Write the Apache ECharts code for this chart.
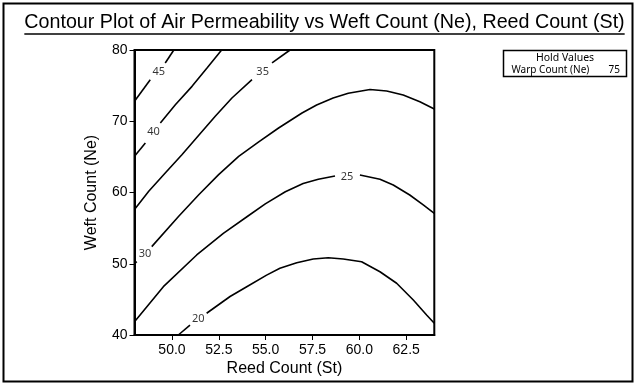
<!DOCTYPE html>
<html>
<head>
<meta charset="utf-8">
<script src="https://cdn.jsdelivr.net/npm/echarts@6/dist/echarts.min.js"></script>
<style>
html,body{margin:0;padding:0;background:#fff;}
#chart{width:636px;height:384px;}
</style>
</head>
<body>
<div id="chart"></div>
<script>
// ---- data (Reed Count (St), Weft Count (Ne)) ----
const titleText = 'Contour Plot of Air Permeability vs Weft Count (Ne), Reed Count (St)';
const xName = 'Reed Count (St)';
const yName = 'Weft Count (Ne)';
const xTickValues = [50, 52.5, 55, 57.5, 60, 62.5];
const yTickValues = [40, 50, 60, 70, 80];
const holdTitle = 'Hold Values';
const holdName = 'Warp Count (Ne)';
const holdValue = '75';

// contour segments (gaps where labels sit)
const contour45 = [
  [[48, 72.8], [48.84, 75.83]],
  [[49.64, 78.18], [50.1, 80]]
];
const contour40 = [
  [[48, 65.1], [48.58, 66.95]],
  [[49.38, 69.75], [50.18, 72.32], [51.07, 74.9], [51.87, 77.47], [52.65, 80]]
];
const contour35 = [
  [[48, 57.6], [48.76, 60.17], [49.64, 62.74], [50.53, 65.31], [51.43, 68.03], [52.31, 70.69],
   [53.2, 73.26], [54.27, 75.83]],
  [[55.34, 78.18], [56.3, 80]]
];
const contour30 = [
  [[48, 50.0], [48.12, 50.3]],
  [[48.92, 52.4], [50.36, 56.66], [51.43, 59.69], [52.49, 62.5], [53.56, 65.08], [54.63, 67.1],
   [55.69, 69.05], [56.94, 71.16], [57.72, 72.28], [58.6, 73.25], [59.41, 73.92], [60.57, 74.46],
   [61.46, 74.25], [62.34, 73.68], [63.23, 72.74], [64, 71.72]]
];
const contour25 = [
  [[48, 41.87], [49.54, 46.78], [51.32, 51.23], [52.74, 54.27], [54.0, 56.6], [54.98, 58.4],
   [56.05, 60.1], [57.0, 61.25], [57.81, 61.85], [58.7, 62.32]],
  [[60.03, 62.46], [61.1, 61.85], [61.81, 61.05], [62.69, 59.65], [63.41, 58.25], [64, 57.08]]
];
const contour20 = [
  [[50.34, 40], [50.96, 41.4]],
  [[51.85, 43.05], [53.1, 45.4], [53.99, 46.78], [55.05, 48.4], [55.76, 49.36], [56.66, 50.15],
   [57.54, 50.67], [58.34, 50.85], [59.14, 50.67], [60.12, 50.29], [61.1, 48.88], [61.99, 47.26],
   [62.88, 44.91], [63.59, 42.81], [64, 41.64]]
];
const contourLevels = ['45', '40', '35', '30', '25', '20'];
const contourLabelPos = [[49.29, 77.0], [49.02, 68.5], [54.84, 77.0], [48.56, 51.37], [59.34, 62.25], [51.4, 42.2]];

// ---- build ----
const contours = [contour45, contour40, contour35, contour30, contour25, contour20];
const series = [];
contours.forEach(function (segs) {
  segs.forEach(function (seg) {
    series.push({
      type: 'line', data: seg, showSymbol: false, symbol: 'none', silent: true,
      smooth: false, lineStyle: { color: '#000', width: 1.6 }, animation: false, clip: true
    });
  });
});
series.push({
  type: 'scatter', symbolSize: 1, itemStyle: { color: 'rgba(0,0,0,0)' }, silent: true, animation: false,
  data: contourLabelPos.map(function (p, i) { return { value: p, name: contourLevels[i] }; }),
  label: { show: true, position: 'inside', formatter: '{b}', color: '#000', fontSize: 11, fontFamily: 'Noto Sans' }
});

const gridLeft = 134.5, gridTop = 50, gridRight = 636 - 434.3, gridBottom = 384 - 335;

// measure title width for underline
const titleFont = '19.7px "Liberation Sans"';
const cv = document.createElement('canvas').getContext('2d');
cv.font = titleFont;
const tw = cv.measureText(titleText).width;
const tcx = 324.5;

const chart = echarts.init(document.getElementById('chart'), null, { renderer: 'canvas' });
chart.setOption({
  animation: false,
  backgroundColor: '#fff',
  grid: { left: gridLeft, right: gridRight, top: gridTop, bottom: gridBottom, show: true, borderColor: '#000', borderWidth: 2, backgroundColor: 'transparent' },
  xAxis: {
    type: 'value', min: 48, max: 64,
    axisLine: { show: true, onZero: false, lineStyle: { color: '#000', width: 2 } },
    axisTick: { show: true, inside: false, length: 5, lineStyle: { color: '#000', width: 1 }, customValues: xTickValues },
    axisLabel: { show: true, customValues: xTickValues, margin: 8, color: '#000', fontSize: 14, fontFamily: 'Liberation Sans',
      formatter: function (v) { return v.toFixed(1); } },
    splitLine: { show: false }
  },
  yAxis: {
    type: 'value', min: 40, max: 80, interval: 10,
    axisLine: { show: true, onZero: false, lineStyle: { color: '#000', width: 2 } },
    axisTick: { show: true, inside: false, length: 5, lineStyle: { color: '#000', width: 1 } },
    axisLabel: { show: true, margin: 7, color: '#000', fontSize: 14, fontFamily: 'Liberation Sans' },
    splitLine: { show: false }
  },
  series: series,
  graphic: [
    { type: 'rect', shape: { x: 3.5, y: 3.5, width: 629, height: 378 }, style: { fill: 'none', stroke: '#000', lineWidth: 2 }, silent: true },
    { type: 'text', x: tcx, y: 23, style: { text: titleText, font: titleFont, fill: '#000', align: 'center', verticalAlign: 'middle' }, silent: true },
    { type: 'line', shape: { x1: tcx - tw / 2, y1: 34, x2: tcx + tw / 2, y2: 34 }, style: { stroke: '#000', lineWidth: 1.5 }, silent: true },
    { type: 'text', x: 284.4, y: 369, style: { text: xName, font: '16px "Liberation Sans"', fill: '#000', align: 'center', verticalAlign: 'middle' }, silent: true },
    { type: 'text', x: 92, y: 192.5, rotation: Math.PI / 2, style: { text: yName, font: '16px "Liberation Sans"', fill: '#000', align: 'center', verticalAlign: 'middle' }, silent: true },
    { type: 'rect', shape: { x: 503.5, y: 50.5, width: 123, height: 26 }, style: { fill: '#fff', stroke: '#000', lineWidth: 1.5 }, silent: true },
    { type: 'text', x: 565, y: 58.5, style: { text: holdTitle, font: '10.5px "Noto Sans"', fill: '#000', align: 'center', verticalAlign: 'middle' }, silent: true },
    { type: 'text', x: 511.5, y: 70, style: { text: holdName, font: '10px "Noto Sans"', fill: '#000', align: 'left', verticalAlign: 'middle' }, silent: true },
    { type: 'text', x: 620, y: 70, style: { text: holdValue, font: '10px "Noto Sans"', fill: '#000', align: 'right', verticalAlign: 'middle' }, silent: true }
  ]
});
</script>
</body>
</html>
